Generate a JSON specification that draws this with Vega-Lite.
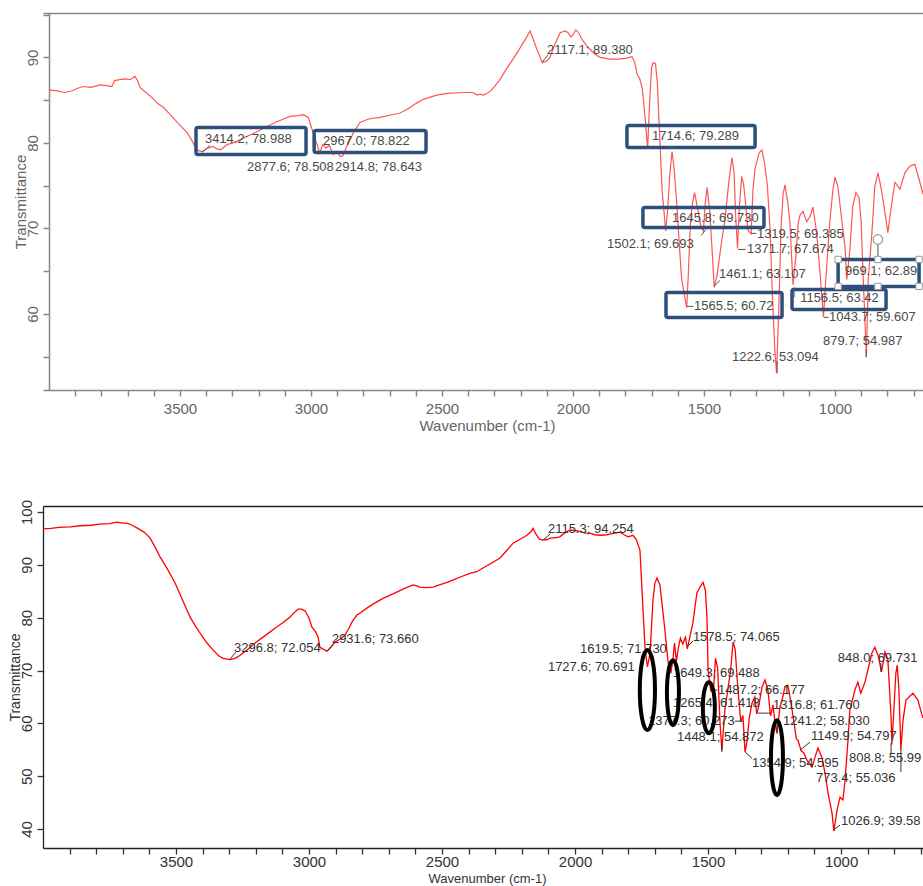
{
  "$schema": "https://vega.github.io/schema/vega-lite/v6.json",
  "background": "white",
  "padding": {"left": 8, "top": 13, "right": 0, "bottom": 0},
  "spacing": 66,
  "config": {
    "view": {"stroke": null},
    "font": "Liberation Sans",
    "axis": {"grid": false, "titleFontWeight": "normal", "labelOverlap": false, "labelFlush": false, "labelFont": "Liberation Sans", "titleFont": "Liberation Sans"}
  },
  "datasets": {
    "top": [
      {"wn":4000,"T":86.2},{"wn":3970,"T":86.1},{"wn":3940,"T":85.9},{"wn":3912,"T":86.1},{"wn":3890,"T":86.4},{"wn":3870,"T":86.6},{"wn":3840,"T":86.5},{"wn":3805,"T":86.8},{"wn":3780,"T":86.7},{"wn":3760,"T":86.6},{"wn":3750,"T":87.3},{"wn":3730,"T":87.4},{"wn":3710,"T":87.5},{"wn":3690,"T":87.4},{"wn":3672,"T":87.8},{"wn":3662,"T":87.3},{"wn":3653,"T":86.5},{"wn":3630,"T":85.9},{"wn":3607,"T":85.3},{"wn":3585,"T":84.6},{"wn":3565,"T":84.2},{"wn":3540,"T":83.4},{"wn":3519,"T":82.7},{"wn":3495,"T":81.9},{"wn":3473,"T":81.2},{"wn":3455,"T":80.3},{"wn":3443,"T":79.6},{"wn":3430,"T":79.1},{"wn":3414,"T":78.99},{"wn":3395,"T":79.4},{"wn":3374,"T":79.6},{"wn":3360,"T":79.3},{"wn":3345,"T":79.2},{"wn":3320,"T":79.8},{"wn":3290,"T":80.1},{"wn":3250,"T":80.7},{"wn":3214,"T":81.2},{"wn":3175,"T":81.8},{"wn":3137,"T":82.4},{"wn":3105,"T":82.8},{"wn":3080,"T":83.1},{"wn":3050,"T":83.2},{"wn":3030,"T":83.3},{"wn":3011,"T":83.0},{"wn":2996,"T":81.6},{"wn":2980,"T":80.1},{"wn":2967,"T":78.82},{"wn":2955,"T":79.8},{"wn":2943,"T":79.4},{"wn":2930,"T":79.7},{"wn":2915,"T":78.64},{"wn":2900,"T":79.0},{"wn":2890,"T":78.4},{"wn":2878,"T":78.51},{"wn":2865,"T":79.5},{"wn":2850,"T":80.4},{"wn":2835,"T":81.4},{"wn":2813,"T":82.4},{"wn":2780,"T":82.8},{"wn":2737,"T":83.0},{"wn":2690,"T":83.3},{"wn":2660,"T":83.5},{"wn":2634,"T":83.9},{"wn":2600,"T":84.6},{"wn":2572,"T":85.1},{"wn":2520,"T":85.6},{"wn":2481,"T":85.8},{"wn":2420,"T":85.9},{"wn":2382,"T":85.9},{"wn":2365,"T":85.6},{"wn":2355,"T":85.7},{"wn":2340,"T":85.6},{"wn":2317,"T":86.0},{"wn":2300,"T":86.6},{"wn":2279,"T":87.4},{"wn":2255,"T":88.6},{"wn":2229,"T":89.8},{"wn":2200,"T":91.2},{"wn":2180,"T":92.2},{"wn":2164,"T":93.1},{"wn":2155,"T":92.4},{"wn":2137,"T":90.9},{"wn":2117,"T":89.38},{"wn":2100,"T":89.6},{"wn":2088,"T":90.0},{"wn":2070,"T":91.5},{"wn":2049,"T":92.9},{"wn":2030,"T":93.1},{"wn":2019,"T":92.9},{"wn":2008,"T":92.4},{"wn":2000,"T":92.6},{"wn":1990,"T":93.2},{"wn":1981,"T":93.0},{"wn":1965,"T":92.1},{"wn":1946,"T":91.3},{"wn":1920,"T":90.5},{"wn":1897,"T":90.0},{"wn":1860,"T":89.8},{"wn":1832,"T":89.8},{"wn":1800,"T":89.9},{"wn":1775,"T":90.1},{"wn":1765,"T":89.5},{"wn":1755,"T":88.0},{"wn":1745,"T":87.5},{"wn":1735,"T":86.3},{"wn":1725,"T":83.0},{"wn":1715,"T":79.3},{"wn":1708,"T":84.5},{"wn":1700,"T":88.8},{"wn":1694,"T":89.4},{"wn":1685,"T":89.3},{"wn":1678,"T":87.0},{"wn":1670,"T":81.5},{"wn":1660,"T":74.5},{"wn":1646,"T":69.7},{"wn":1638,"T":72.5},{"wn":1630,"T":76.5},{"wn":1622,"T":79.0},{"wn":1614,"T":77.0},{"wn":1603,"T":72.5},{"wn":1594,"T":68.0},{"wn":1585,"T":64.0},{"wn":1566,"T":60.72},{"wn":1560,"T":64.5},{"wn":1552,"T":70.5},{"wn":1545,"T":72.8},{"wn":1536,"T":74.2},{"wn":1522,"T":72.0},{"wn":1512,"T":70.2},{"wn":1502,"T":69.7},{"wn":1495,"T":73.0},{"wn":1488,"T":74.8},{"wn":1478,"T":72.0},{"wn":1470,"T":68.0},{"wn":1461,"T":63.1},{"wn":1450,"T":64.5},{"wn":1435,"T":68.0},{"wn":1420,"T":71.0},{"wn":1405,"T":75.5},{"wn":1393,"T":78.3},{"wn":1385,"T":76.5},{"wn":1380,"T":72.0},{"wn":1372,"T":67.67},{"wn":1365,"T":72.5},{"wn":1356,"T":76.1},{"wn":1348,"T":75.0},{"wn":1340,"T":72.5},{"wn":1332,"T":69.8},{"wn":1320,"T":69.39},{"wn":1313,"T":74.5},{"wn":1305,"T":77.0},{"wn":1290,"T":78.8},{"wn":1279,"T":79.2},{"wn":1268,"T":77.5},{"wn":1258,"T":75.0},{"wn":1248,"T":70.0},{"wn":1240,"T":63.0},{"wn":1230,"T":56.0},{"wn":1223,"T":53.09},{"wn":1215,"T":60.0},{"wn":1206,"T":70.0},{"wn":1198,"T":74.0},{"wn":1191,"T":75.1},{"wn":1180,"T":73.0},{"wn":1172,"T":70.7},{"wn":1160,"T":63.4},{"wn":1150,"T":66.5},{"wn":1140,"T":70.7},{"wn":1134,"T":71.5},{"wn":1122,"T":72.0},{"wn":1108,"T":70.8},{"wn":1095,"T":71.4},{"wn":1084,"T":72.5},{"wn":1070,"T":69.5},{"wn":1057,"T":64.8},{"wn":1044,"T":59.61},{"wn":1035,"T":64.0},{"wn":1020,"T":70.7},{"wn":1008,"T":74.5},{"wn":1000,"T":76.0},{"wn":989,"T":74.9},{"wn":973,"T":70.7},{"wn":962,"T":67.9},{"wn":955,"T":64.0},{"wn":943,"T":67.5},{"wn":932,"T":72.6},{"wn":920,"T":74.2},{"wn":908,"T":73.6},{"wn":900,"T":70.7},{"wn":893,"T":64.8},{"wn":880,"T":54.99},{"wn":873,"T":64.0},{"wn":859,"T":69.5},{"wn":848,"T":74.9},{"wn":836,"T":76.5},{"wn":825,"T":74.9},{"wn":813,"T":72.6},{"wn":798,"T":69.5},{"wn":785,"T":72.6},{"wn":771,"T":75.4},{"wn":752,"T":74.6},{"wn":733,"T":76.5},{"wn":714,"T":77.3},{"wn":695,"T":77.5},{"wn":676,"T":75.4},{"wn":664,"T":74.0}
    ],
    "topLabels": [
      {"wn":3405,"T":80.41,"label":"3414.2; 78.988"},
      {"wn":2954,"T":80.18,"label":"2967.0; 78.822"},
      {"wn":3244,"T":77.13,"label":"2877.6; 78.508"},
      {"wn":2908,"T":77.13,"label":"2914.8; 78.643"},
      {"wn":2099,"T":90.82,"label":"2117.1; 89.380"},
      {"wn":1698,"T":80.76,"label":"1714.6; 79.289"},
      {"wn":1622,"T":71.17,"label":"1645.8; 69.730"},
      {"wn":1870,"T":68.13,"label":"1502.1; 69.693"},
      {"wn":1298,"T":69.30,"label":"1319.5; 69.385"},
      {"wn":1336,"T":67.54,"label":"1371.7; 67.674"},
      {"wn":1443,"T":64.62,"label":"1461.1; 63.107"},
      {"wn":1538,"T":60.88,"label":"1565.5; 60.72"},
      {"wn":1133,"T":61.81,"label":"1156.5; 63.42"},
      {"wn":962,"T":64.97,"label":"969.1; 62.89"},
      {"wn":1023,"T":59.59,"label":"1043.7; 59.607"},
      {"wn":1046,"T":56.78,"label":"879.7; 54.987"},
      {"wn":1393,"T":54.91,"label":"1222.6; 53.094"}
    ],
    "topBoxes": [
      {"wn":3439,"wn2":3019,"T":81.81,"T2":78.65},
      {"wn":2988,"wn2":2561,"T":81.46,"T2":78.89},
      {"wn":1794,"wn2":1305,"T":82.05,"T2":79.47},
      {"wn":1733,"wn2":1271,"T":72.46,"T2":70.12},
      {"wn":1645,"wn2":1202,"T":62.51,"T2":59.59},
      {"wn":1164,"wn2":805,"T":62.87,"T2":60.53},
      {"wn":988,"wn2":679,"T":66.37,"T2":63.22}
    ],
    "topLeaders": [
      {"wn":3416,"wn2":3385,"T":78.89,"T2":79.71},
      {"wn":2118,"wn2":2095,"T":89.42,"T2":90.35},
      {"wn":1565,"wn2":1540,"T":60.88,"T2":60.88},
      {"wn":1370,"wn2":1341,"T":67.54,"T2":67.54},
      {"wn":1320,"wn2":1300,"T":69.42,"T2":69.42},
      {"wn":1042,"wn2":1024,"T":59.59,"T2":59.59},
      {"wn":1221,"wn2":1221,"T":54.44,"T2":53.04},
      {"wn":881,"wn2":881,"T":55.85,"T2":54.91},
      {"wn":1462,"wn2":1439,"T":63.22,"T2":63.92},
      {"wn":1511,"wn2":1492,"T":69.18,"T2":69.88},
      {"wn":1156,"wn2":1156,"T":63.1,"T2":61.93},
      {"wn":836,"wn2":836,"T":68.4,"T2":66.37}
    ],
    "handles": [
      {"wn":988,"T":66.37},{"wn":836,"T":66.37},{"wn":679,"T":66.37},
      {"wn":988,"T":63.22},{"wn":836,"T":63.22},{"wn":679,"T":63.22}
    ],
    "rotHandle": [{"wn":836,"T":68.71}],
    "bottom": [
      {"wn":4000,"T":96.8},{"wn":3970,"T":96.9},{"wn":3940,"T":97.1},{"wn":3898,"T":97.2},{"wn":3860,"T":97.4},{"wn":3820,"T":97.5},{"wn":3786,"T":97.7},{"wn":3750,"T":97.8},{"wn":3722,"T":98.1},{"wn":3700,"T":97.9},{"wn":3684,"T":97.9},{"wn":3665,"T":97.5},{"wn":3647,"T":97.0},{"wn":3620,"T":96.2},{"wn":3598,"T":95.1},{"wn":3580,"T":93.5},{"wn":3560,"T":91.5},{"wn":3530,"T":89.0},{"wn":3504,"T":86.6},{"wn":3475,"T":83.3},{"wn":3447,"T":80.1},{"wn":3428,"T":78.5},{"wn":3410,"T":77.1},{"wn":3385,"T":75.3},{"wn":3361,"T":73.9},{"wn":3340,"T":72.8},{"wn":3323,"T":72.3},{"wn":3297,"T":72.05},{"wn":3278,"T":72.3},{"wn":3259,"T":72.9},{"wn":3230,"T":74.0},{"wn":3203,"T":75.2},{"wn":3165,"T":76.6},{"wn":3128,"T":78.0},{"wn":3100,"T":79.0},{"wn":3072,"T":80.1},{"wn":3055,"T":81.0},{"wn":3041,"T":81.6},{"wn":3028,"T":81.6},{"wn":3015,"T":81.3},{"wn":3000,"T":79.9},{"wn":2989,"T":78.2},{"wn":2975,"T":77.3},{"wn":2966,"T":76.3},{"wn":2959,"T":74.4},{"wn":2945,"T":74.0},{"wn":2932,"T":73.66},{"wn":2915,"T":74.6},{"wn":2902,"T":75.4},{"wn":2880,"T":76.0},{"wn":2865,"T":76.7},{"wn":2850,"T":78.0},{"wn":2838,"T":79.2},{"wn":2820,"T":80.5},{"wn":2808,"T":80.9},{"wn":2780,"T":81.9},{"wn":2752,"T":82.8},{"wn":2720,"T":83.7},{"wn":2684,"T":84.5},{"wn":2647,"T":85.4},{"wn":2609,"T":86.2},{"wn":2595,"T":86.0},{"wn":2583,"T":85.8},{"wn":2560,"T":85.7},{"wn":2534,"T":85.8},{"wn":2510,"T":86.2},{"wn":2481,"T":86.7},{"wn":2455,"T":87.2},{"wn":2432,"T":87.7},{"wn":2395,"T":88.4},{"wn":2370,"T":88.7},{"wn":2346,"T":89.4},{"wn":2315,"T":90.3},{"wn":2282,"T":91.3},{"wn":2255,"T":92.8},{"wn":2233,"T":94.1},{"wn":2205,"T":94.9},{"wn":2181,"T":95.6},{"wn":2165,"T":96.3},{"wn":2158,"T":96.9},{"wn":2148,"T":95.9},{"wn":2135,"T":94.9},{"wn":2121,"T":94.7},{"wn":2105,"T":94.8},{"wn":2090,"T":95.1},{"wn":2075,"T":95.1},{"wn":2057,"T":95.3},{"wn":2040,"T":96.0},{"wn":2019,"T":96.6},{"wn":2000,"T":96.5},{"wn":1980,"T":96.3},{"wn":1962,"T":96.0},{"wn":1944,"T":96.0},{"wn":1925,"T":95.7},{"wn":1906,"T":95.6},{"wn":1880,"T":95.7},{"wn":1860,"T":95.9},{"wn":1831,"T":96.2},{"wn":1815,"T":95.7},{"wn":1801,"T":95.3},{"wn":1782,"T":95.6},{"wn":1770,"T":94.8},{"wn":1756,"T":92.8},{"wn":1745,"T":82.0},{"wn":1737,"T":74.4},{"wn":1728,"T":70.69},{"wn":1718,"T":73.3},{"wn":1707,"T":83.3},{"wn":1700,"T":86.5},{"wn":1692,"T":87.5},{"wn":1681,"T":86.2},{"wn":1665,"T":79.0},{"wn":1650,"T":71.5},{"wn":1640,"T":69.5},{"wn":1632,"T":72.0},{"wn":1626,"T":75.2},{"wn":1619,"T":71.73},{"wn":1612,"T":74.2},{"wn":1604,"T":76.1},{"wn":1595,"T":75.0},{"wn":1585,"T":76.3},{"wn":1578,"T":74.07},{"wn":1570,"T":76.0},{"wn":1557,"T":79.0},{"wn":1542,"T":84.7},{"wn":1530,"T":85.8},{"wn":1519,"T":86.7},{"wn":1510,"T":85.2},{"wn":1504,"T":80.0},{"wn":1500,"T":70.1},{"wn":1490,"T":66.18},{"wn":1480,"T":66.0},{"wn":1472,"T":72.3},{"wn":1464,"T":70.5},{"wn":1455,"T":60.0},{"wn":1448,"T":54.87},{"wn":1437,"T":62.5},{"wn":1426,"T":66.3},{"wn":1415,"T":70.1},{"wn":1406,"T":75.4},{"wn":1398,"T":74.0},{"wn":1390,"T":68.0},{"wn":1384,"T":64.4},{"wn":1377,"T":60.27},{"wn":1369,"T":61.5},{"wn":1361,"T":54.6},{"wn":1354,"T":56.5},{"wn":1345,"T":61.0},{"wn":1335,"T":63.8},{"wn":1324,"T":65.0},{"wn":1317,"T":61.76},{"wn":1310,"T":63.1},{"wn":1297,"T":66.9},{"wn":1286,"T":68.2},{"wn":1275,"T":66.3},{"wn":1265,"T":61.42},{"wn":1256,"T":63.5},{"wn":1248,"T":60.0},{"wn":1241,"T":58.03},{"wn":1230,"T":63.0},{"wn":1220,"T":64.8},{"wn":1211,"T":66.9},{"wn":1200,"T":67.2},{"wn":1190,"T":64.4},{"wn":1180,"T":61.2},{"wn":1168,"T":57.0},{"wn":1162,"T":56.8},{"wn":1150,"T":54.8},{"wn":1140,"T":54.4},{"wn":1128,"T":53.0},{"wn":1109,"T":51.7},{"wn":1098,"T":53.6},{"wn":1087,"T":55.3},{"wn":1072,"T":53.6},{"wn":1060,"T":50.5},{"wn":1049,"T":46.8},{"wn":1034,"T":43.0},{"wn":1027,"T":39.58},{"wn":1015,"T":43.6},{"wn":1004,"T":46.0},{"wn":993,"T":45.5},{"wn":985,"T":49.2},{"wn":974,"T":56.8},{"wn":967,"T":62.5},{"wn":948,"T":66.3},{"wn":937,"T":67.8},{"wn":926,"T":65.7},{"wn":910,"T":67.8},{"wn":899,"T":70.1},{"wn":884,"T":73.3},{"wn":873,"T":74.4},{"wn":861,"T":72.9},{"wn":848,"T":69.73},{"wn":835,"T":73.5},{"wn":824,"T":72.0},{"wn":812,"T":61.2},{"wn":809,"T":55.99},{"wn":803,"T":61.2},{"wn":794,"T":69.5},{"wn":789,"T":71.0},{"wn":783,"T":66.9},{"wn":775,"T":55.04},{"wn":767,"T":60.6},{"wn":756,"T":64.4},{"wn":730,"T":65.7},{"wn":711,"T":64.4},{"wn":696,"T":61.6},{"wn":692,"T":61.0}
    ],
    "bottomLabels": [
      {"wn":3282,"T":74.24,"label":"3296.8; 72.054"},
      {"wn":2914,"T":75.95,"label":"2931.6; 73.660"},
      {"wn":2102,"T":96.78,"label":"2115.3; 94.254"},
      {"wn":1981,"T":74.05,"label":"1619.5; 71.730"},
      {"wn":2102,"T":70.64,"label":"1727.6; 70.691"},
      {"wn":1557,"T":76.33,"label":"1578.5; 74.065"},
      {"wn":1632,"T":69.51,"label":"1649.3; 69.488"},
      {"wn":1463,"T":66.29,"label":"1487.2; 66.177"},
      {"wn":1632,"T":63.83,"label":"1265.4; 61.418"},
      {"wn":1256,"T":63.45,"label":"1316.8; 61.760"},
      {"wn":1726,"T":60.42,"label":"1377.3; 60.273"},
      {"wn":1218,"T":60.42,"label":"1241.2; 58.030"},
      {"wn":1617,"T":57.39,"label":"1448.1; 54.872"},
      {"wn":1113,"T":57.58,"label":"1149.9; 54.797"},
      {"wn":1335,"T":52.46,"label":"1354.9; 54.595"},
      {"wn":970,"T":53.41,"label":"808.8; 55.99"},
      {"wn":1094,"T":49.62,"label":"773.4; 55.036"},
      {"wn":1012,"T":72.35,"label":"848.0; 69.731"},
      {"wn":1000,"T":41.48,"label":"1026.9; 39.58"}
    ],
    "bottomLeaders": [
      {"wn":3297,"wn2":3275,"T":72.16,"T2":73.48},
      {"wn":2932,"wn2":2910,"T":73.67,"T2":74.81},
      {"wn":2120,"wn2":2094,"T":94.70,"T2":95.83},
      {"wn":1579,"wn2":1557,"T":74.43,"T2":75.57},
      {"wn":1399,"wn2":1369,"T":60.42,"T2":60.42},
      {"wn":1448,"wn2":1448,"T":56.06,"T2":54.55},
      {"wn":1361,"wn2":1335,"T":54.55,"T2":53.41},
      {"wn":1312,"wn2":1267,"T":61.93,"T2":61.93},
      {"wn":1241,"wn2":1241,"T":60.23,"T2":58.33},
      {"wn":1154,"wn2":1117,"T":54.92,"T2":56.44},
      {"wn":850,"wn2":850,"T":71.40,"T2":69.70},
      {"wn":812,"wn2":812,"T":56.25,"T2":54.36},
      {"wn":775,"wn2":775,"T":55.30,"T2":50.76},
      {"wn":1030,"wn2":1004,"T":39.77,"T2":40.72},
      {"wn":1485,"wn2":1465,"T":66.29,"T2":66.29}
    ],
    "e1": [{"wn":1728,"T":66.29}],
    "e2": [{"wn":1632,"T":65.81}],
    "e3": [{"wn":1497,"T":62.97}],
    "e4": [{"wn":1241,"T":53.50}]
  },
  "vconcat": [
    {
      "width": 880,
      "height": 377,
      "resolve": {"axis": {"x": "independent"}},
      "layer": [
        {
          "data": {"name": "top"},
          "mark": {"type": "line", "color": "#ff5555", "strokeWidth": 1.2, "clip": true},
          "encoding": {
            "x": {"field": "wn", "type": "quantitative",
              "scale": {"domain": [4023, 664], "nice": false, "zero": false},
              "axis": {"orient": "bottom", "values": [3900,3800,3700,3600,3500,3400,3300,3200,3100,3000,2900,2800,2700,2600,2500,2400,2300,2200,2100,2000,1900,1800,1700,1600,1500,1400,1300,1200,1100,1000,900,800,700],
                "labelExpr": "datum.value % 500 === 0 ? format(datum.value, 'd') : ''",
                "labelFontSize": 15, "labelColor": "#666", "labelPadding": 5,
                "tickSize": 6, "tickColor": "#888", "tickWidth": 1.5,
                "domainColor": "#888", "domainWidth": 1.5,
                "title": "Wavenumber (cm-1)", "titleFontSize": 15, "titleColor": "#666",
                "titleX": 444, "titleY": 35, "titleBaseline": "middle", "titleAlign": "center"}},
            "y": {"field": "T", "type": "quantitative", "title": "Transmittance",
              "scale": {"domain": [51.1, 95.2], "nice": false, "zero": false},
              "axis": {"values": [55,60,65,70,75,80,85,90,95],
                "labelExpr": "datum.value % 10 === 0 ? format(datum.value, 'd') : ''",
                "labelAngle": -90, "labelAlign": "center", "labelBaseline": "middle", "labelPadding": 10.5,
                "labelFontSize": 15, "labelColor": "#666",
                "tickSize": 6, "tickColor": "#888", "tickWidth": 1.5,
                "domainColor": "#888", "domainWidth": 1.5, "offset": -6,
                "titleFontSize": 15, "titleColor": "#666", "titleX": -29, "titleY": 188.5,
                "titleBaseline": "middle", "titleAlign": "center", "titleAngle": -90}}
          }
        },
        {
          "data": {"name": "topBoxes"},
          "mark": {"type": "rect", "filled": false, "color": "#2e4f7c", "strokeWidth": 3.5, "cornerRadius": 2, "clip": true},
          "encoding": {
            "x": {"field": "wn", "type": "quantitative",
              "axis": {"orient": "top", "labels": false, "ticks": false, "title": null, "domain": true, "domainColor": "#888", "domainWidth": 1.5}},
            "x2": {"field": "wn2"},
            "y": {"field": "T", "type": "quantitative", "title": "Transmittance"},
            "y2": {"field": "T2"}
          }
        },
        {
          "data": {"name": "topLeaders"},
          "mark": {"type": "rule", "color": "#555", "strokeWidth": 1, "clip": true},
          "encoding": {
            "x": {"field": "wn", "type": "quantitative", "axis": null},
            "x2": {"field": "wn2"},
            "y": {"field": "T", "type": "quantitative", "title": "Transmittance"},
            "y2": {"field": "T2"}
          }
        },
        {
          "data": {"name": "topLabels"},
          "mark": {"type": "text", "align": "left", "baseline": "middle", "fontSize": 13, "color": "#4a4a4a", "font": "Liberation Sans", "clip": true},
          "encoding": {
            "x": {"field": "wn", "type": "quantitative", "axis": null},
            "y": {"field": "T", "type": "quantitative", "title": "Transmittance"},
            "text": {"field": "label"}
          }
        },
        {
          "data": {"name": "handles"},
          "mark": {"type": "point", "shape": "square", "filled": true, "fill": "white", "stroke": "#9a9a9a", "strokeWidth": 1, "size": 40, "opacity": 1, "clip": true},
          "encoding": {
            "x": {"field": "wn", "type": "quantitative", "axis": null},
            "y": {"field": "T", "type": "quantitative", "title": "Transmittance"}
          }
        },
        {
          "data": {"name": "rotHandle"},
          "mark": {"type": "point", "shape": "circle", "filled": true, "fill": "white", "stroke": "#9a9a9a", "strokeWidth": 1.2, "size": 90, "opacity": 1, "clip": true},
          "encoding": {
            "x": {"field": "wn", "type": "quantitative", "axis": null},
            "y": {"field": "T", "type": "quantitative", "title": "Transmittance"}
          }
        }
      ]
    },
    {
      "width": 880,
      "height": 342,
      "resolve": {"axis": {"x": "independent"}},
      "layer": [
        {
          "data": {"name": "bottom"},
          "mark": {"type": "line", "color": "#ff0000", "strokeWidth": 1.3, "clip": true},
          "encoding": {
            "x": {"field": "wn", "type": "quantitative",
              "scale": {"domain": [4000, 692], "nice": false, "zero": false},
              "axis": {"orient": "bottom", "values": [3900,3800,3700,3600,3500,3400,3300,3200,3100,3000,2900,2800,2700,2600,2500,2400,2300,2200,2100,2000,1900,1800,1700,1600,1500,1400,1300,1200,1100,1000,900,800,700],
                "labelExpr": "datum.value % 500 === 0 ? format(datum.value, 'd') : ''",
                "labelFontSize": 15, "labelColor": "#333", "labelPadding": 0,
                "tickSize": 6, "tickColor": "#333", "tickWidth": 1.3,
                "domainColor": "#222", "domainWidth": 1.3,
                "title": "Wavenumber (cm-1)", "titleFontSize": 13, "titleColor": "#333",
                "titleX": 444, "titleY": 30.5, "titleBaseline": "middle", "titleAlign": "center"}},
            "y": {"field": "T", "type": "quantitative", "title": "Transmittance",
              "scale": {"domain": [36.4, 101.14], "nice": false, "zero": false},
              "axis": {"values": [40,45,50,55,60,65,70,75,80,85,90,95,100],
                "labelExpr": "datum.value % 10 === 0 ? format(datum.value, 'd') : ''",
                "labelAngle": -90, "labelAlign": "center", "labelBaseline": "middle", "labelPadding": 10.5,
                "labelFontSize": 15, "labelColor": "#333",
                "tickSize": 6, "tickColor": "#333", "tickWidth": 1.3,
                "domainColor": "#222", "domainWidth": 1.3,
                "titleFontSize": 14, "titleColor": "#333", "titleX": -28, "titleY": 171,
                "titleBaseline": "middle", "titleAlign": "center", "titleAngle": -90}}
          }
        },
        {
          "data": {"name": "bottomLabels"},
          "mark": {"type": "text", "align": "left", "baseline": "middle", "fontSize": 13, "color": "#333", "font": "Liberation Sans", "clip": true},
          "encoding": {
            "x": {"field": "wn", "type": "quantitative",
              "axis": {"orient": "top", "labels": false, "ticks": false, "title": null, "domain": true, "domainColor": "#222", "domainWidth": 1.3}},
            "y": {"field": "T", "type": "quantitative", "title": "Transmittance"},
            "text": {"field": "label"}
          }
        },
        {
          "data": {"name": "bottomLeaders"},
          "mark": {"type": "rule", "color": "#333", "strokeWidth": 1, "clip": true},
          "encoding": {
            "x": {"field": "wn", "type": "quantitative", "axis": null},
            "x2": {"field": "wn2"},
            "y": {"field": "T", "type": "quantitative", "title": "Transmittance"},
            "y2": {"field": "T2"}
          }
        },
        {
          "data": {"name": "e1"},
          "mark": {"type": "point", "shape": "M0,-1C0.105,-1 0.19,-0.552 0.19,0C0.19,0.552 0.105,1 0,1C-0.105,1 -0.19,0.552 -0.19,0C-0.19,-0.552 -0.105,-1 0,-1Z", "filled": false, "color": "black", "strokeWidth": 4, "size": 6400, "opacity": 1, "clip": true},
          "encoding": {"x": {"field": "wn", "type": "quantitative", "axis": null}, "y": {"field": "T", "type": "quantitative", "title": "Transmittance"}}
        },
        {
          "data": {"name": "e2"},
          "mark": {"type": "point", "shape": "M0,-1C0.102,-1 0.185,-0.552 0.185,0C0.185,0.552 0.102,1 0,1C-0.102,1 -0.185,0.552 -0.185,0C-0.185,-0.552 -0.102,-1 0,-1Z", "filled": false, "color": "black", "strokeWidth": 4, "size": 4225, "opacity": 1, "clip": true},
          "encoding": {"x": {"field": "wn", "type": "quantitative", "axis": null}, "y": {"field": "T", "type": "quantitative", "title": "Transmittance"}}
        },
        {
          "data": {"name": "e3"},
          "mark": {"type": "point", "shape": "M0,-1C0.13,-1 0.235,-0.552 0.235,0C0.235,0.552 0.13,1 0,1C-0.13,1 -0.235,0.552 -0.235,0C-0.235,-0.552 -0.13,-1 0,-1Z", "filled": false, "color": "black", "strokeWidth": 4, "size": 2601, "opacity": 1, "clip": true},
          "encoding": {"x": {"field": "wn", "type": "quantitative", "axis": null}, "y": {"field": "T", "type": "quantitative", "title": "Transmittance"}}
        },
        {
          "data": {"name": "e4"},
          "mark": {"type": "point", "shape": "M0,-1C0.088,-1 0.16,-0.552 0.16,0C0.16,0.552 0.088,1 0,1C-0.088,1 -0.16,0.552 -0.16,0C-0.16,-0.552 -0.088,-1 0,-1Z", "filled": false, "color": "black", "strokeWidth": 4, "size": 5625, "opacity": 1, "clip": true},
          "encoding": {"x": {"field": "wn", "type": "quantitative", "axis": null}, "y": {"field": "T", "type": "quantitative", "title": "Transmittance"}}
        }
      ]
    }
  ]
}
